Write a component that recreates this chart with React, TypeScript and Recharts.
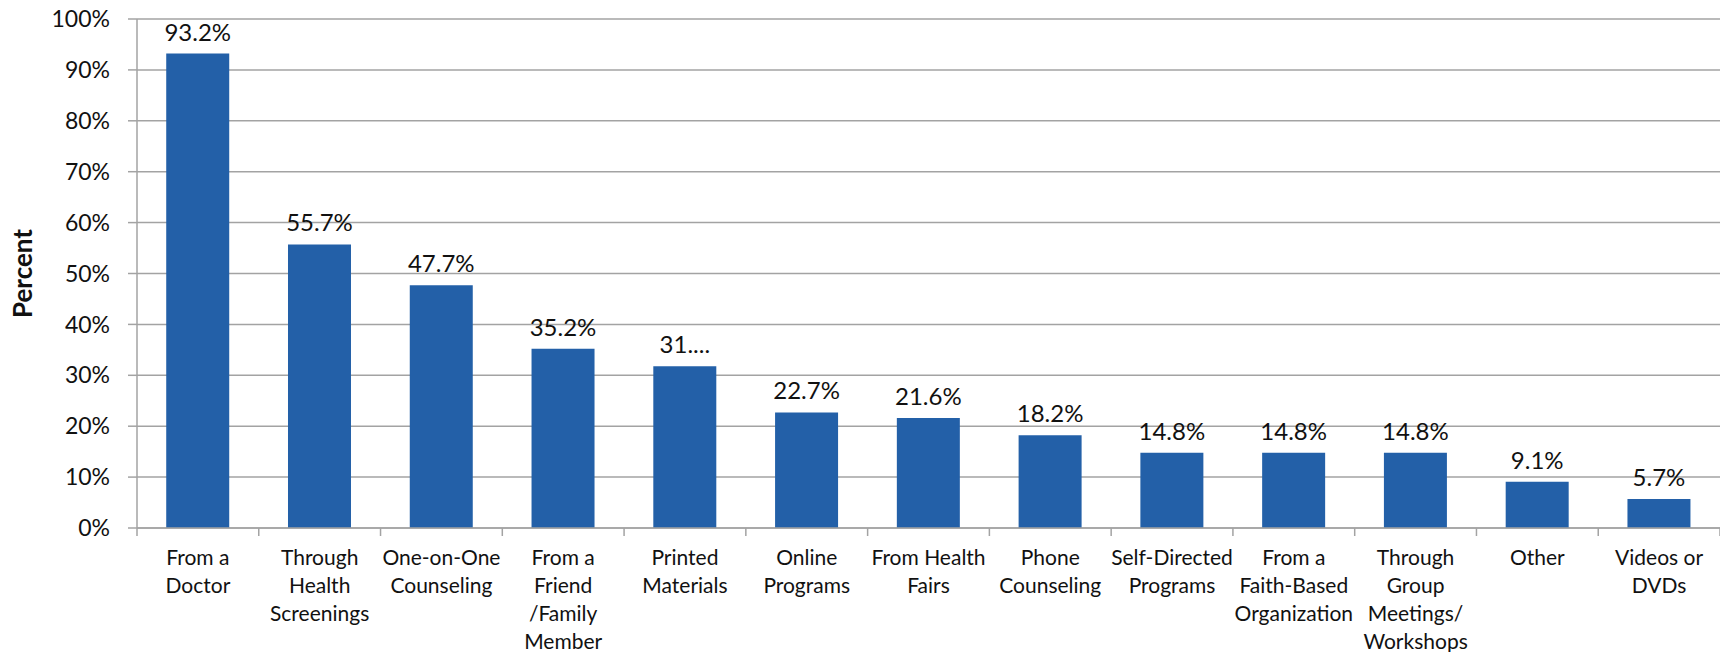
import { Bar, BarChart, CartesianGrid, LabelList, XAxis, YAxis } from 'recharts'

const categories = [
  'From a\nDoctor',
  'Through\nHealth\nScreenings',
  'One-on-One\nCounseling',
  'From a\nFriend\n/Family\nMember',
  'Printed\nMaterials',
  'Online\nPrograms',
  'From Health\nFairs',
  'Phone\nCounseling',
  'Self-Directed\nPrograms',
  'From a\nFaith-Based\nOrganization',
  'Through\nGroup\nMeetings/\nWorkshops',
  'Other',
  'Videos or\nDVDs',
]

const percents = [93.2, 55.7, 47.7, 35.2, 31.8, 22.7, 21.6, 18.2, 14.8, 14.8, 14.8, 9.1, 5.7]

// the Printed Materials label is cut short in the source chart
const valueLabels = ['93.2%', '55.7%', '47.7%', '35.2%', '31....', '22.7%', '21.6%', '18.2%', '14.8%', '14.8%', '14.8%', '9.1%', '5.7%']

const yTicks = [0, 10, 20, 30, 40, 50, 60, 70, 80, 90, 100]

const FONT = 'Lato, "Open Sans", sans-serif'
const GRID = '#a3a3a3'
const BAR = '#2360a8'

const data = categories.map((name, i) => ({
  name,
  value: percents[i],
  label: valueLabels[i],
}))

function CategoryTick(props: any) {
  const { x, y, payload, width, visibleTicksCount, index } = props
  const half = payload?.offset ? payload.offset : width / visibleTicksCount / 2
  const lines = String(payload.value).split('\n')
  const last = index === visibleTicksCount - 1
  return (
    <g>
      <line x1={x - half} x2={x - half} y1={y} y2={y + 8} stroke={GRID} strokeWidth={1.5} />
      {last && <line x1={x + half} x2={x + half} y1={y} y2={y + 8} stroke={GRID} strokeWidth={1.5} />}
      <text x={x} y={y + 37} textAnchor="middle" fontSize={21} fontFamily={FONT} fill="#111">
        {lines.map((l, i) => (
          <tspan key={i} x={x} dy={i === 0 ? 0 : 28}>
            {l}
          </tspan>
        ))}
      </text>
    </g>
  )
}

export default function App() {
  return (
    <div style={{ position: 'absolute', left: 0, top: 0, width: 1720, height: 652, background: '#fff' }}>
      <BarChart
        width={1720}
        height={652}
        data={data}
        margin={{ top: 19, right: 0, left: 0, bottom: 0 }}
        barCategoryGap="24%"
      >
        <CartesianGrid vertical={false} stroke={GRID} strokeWidth={1.5} />
        <XAxis
          dataKey="name"
          interval={0}
          height={124}
          axisLine={{ stroke: GRID, strokeWidth: 1.5 }}
          tickLine={false}
          tickSize={0}
          tickMargin={0}
          tick={<CategoryTick />}
        />
        <YAxis
          width={137}
          domain={[0, 100]}
          ticks={yTicks}
          interval={0}
          tickFormatter={(v: number) => `${v}%`}
          axisLine={{ stroke: GRID, strokeWidth: 1.5 }}
          tickLine={{ stroke: GRID, strokeWidth: 1.5 }}
          tickSize={9}
          tickMargin={18}
          tick={{ fontSize: 23, fontFamily: FONT, fill: '#111' }}
          label={(p: any) => {
            const vb = p.viewBox || { x: 0, y: 19, height: 509 }
            const cx = vb.x + 22
            const cy = vb.y + vb.height / 2
            return (
              <text
                x={cx}
                y={cy}
                transform={`rotate(-90, ${cx}, ${cy})`}
                textAnchor="middle"
                dominantBaseline="central"
                fontSize={26}
                fontWeight={700}
                fontFamily={FONT}
                fill="#111"
              >
                Percent
              </text>
            )
          }}
        />
        <Bar dataKey="value" fill={BAR} isAnimationActive={false}>
          <LabelList
            dataKey="label"
            position="top"
            offset={13}
            style={{ fontSize: 24, fontFamily: FONT, fill: '#111' }}
          />
        </Bar>
      </BarChart>
    </div>
  )
}
